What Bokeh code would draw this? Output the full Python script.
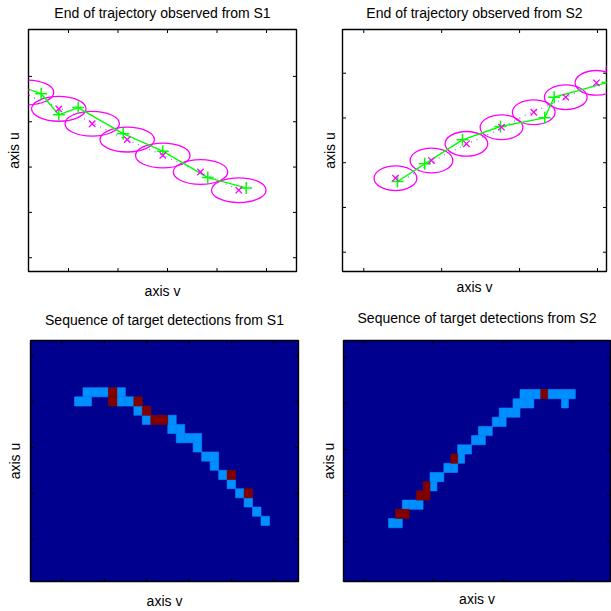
import math
from bokeh.plotting import figure
from bokeh.layouts import column, row
from bokeh.models import FixedTicker, Range1d, LinearAxis
from bokeh.embed import file_html
from bokeh.resources import INLINE

FONT = "Liberation Sans"
NAVY = "#00008F"
LIGHT = "#008FFF"
DARKRED = "#800000"
GREEN = "#00FF00"
MAGENTA = "#FF00FF"

# ---------------- data: end of trajectory, sensor S1 ----------------
s1_track_v = [0.30, 4.48, 8.04, 11.96, 21.05, 29.05, 38.14, 45.90]
s1_track_u = [47.77, 46.19, 41.53, 43.13, 37.37, 33.50, 27.68, 25.40]
s1_obs_v = [1.52, 8.04, 14.79, 21.86, 29.05, 36.67, 44.40]
s1_obs_u = [46.46, 42.84, 39.56, 36.06, 32.56, 28.91, 24.90]
s1_true_v = [1.92, 5.35, 13.29, 19.49, 27.92, 35.31, 43.39]
s1_true_u = [45.69, 44.44, 40.59, 37.16, 33.15, 29.50, 25.49]
s1_ell_w = 11.0
s1_ell_h = 5.47
s1_vticks = [10, 20, 30, 40, 50]
s1_uticks = [10, 20, 30, 40, 50]

# ---------------- data: end of trajectory, sensor S2 ----------------
s2_track_v = [14.33, 17.83, 22.67, 27.55, 33.23, 34.44, 41.28, 43.60]
s2_track_u = [25.80, 29.75, 35.12, 38.09, 40.03, 44.64, 47.92, 49.20]
s2_obs_v = [14.07, 18.69, 23.18, 27.68, 31.82, 35.93, 39.87, 43.85]
s2_obs_u = [26.54, 30.49, 34.22, 37.93, 41.28, 44.64, 47.85, 50.83]
s2_true_v = [15.70, 20.40, 24.25, 26.61, 30.67, 35.16, 37.09, 41.16]
s2_true_u = [26.76, 31.83, 34.96, 36.82, 40.55, 43.90, 45.53, 48.37]
s2_ell_w = 5.48
s2_ell_h = 5.52
s2_vticks = [10, 20, 30, 40]
s2_uticks = [10, 20, 30, 40, 50]

# ---------------- data: detection images ----------------
d1_hit_cols = [6, 7, 8, 10, 5, 6, 10, 11, 12, 13, 16, 16, 17, 17, 18, 19, 19,
               20, 21, 21, 22, 23, 24, 25, 26, 27]
d1_hit_rows = [5, 5, 5, 5, 6, 6, 6, 6, 7, 8, 8, 9, 9, 10, 10, 10, 11,
               12, 12, 13, 14, 15, 16, 17, 18, 19]
d1_match_cols = [9, 9, 12, 13, 14, 15, 23, 25]
d1_match_rows = [5, 6, 6, 7, 8, 8, 14, 16]
d1_vticks = [3.5, 8.5, 13.5, 18.5, 23.5, 28.5]
d1_uticks = [1.5, 6.5, 11.5, 16.5, 21.5]

d2_hit_cols = [26, 27, 28, 30, 31, 32, 33, 25, 26, 27, 32, 23, 24, 25, 22, 23,
               20, 21, 19, 20, 17, 18, 17, 15, 16, 13, 14, 13, 9, 10, 11, 7, 8]
d2_hit_rows = [5, 5, 5, 5, 5, 5, 5, 6, 6, 6, 6, 7, 7, 7, 8, 8,
               9, 9, 10, 10, 11, 11, 12, 13, 13, 14, 14, 15, 17, 17, 17, 19, 19]
d2_match_cols = [29, 16, 12, 11, 12, 8, 9]
d2_match_rows = [5, 12, 15, 16, 16, 18, 18]
d2_vticks = [3.5, 13.5, 23.5, 33.5]
d2_uticks = [1.5, 6.5, 11.5, 16.5, 21.5]


def make_fig(width, height, borders, xr, yr, title, t_standoff, xl_standoff,
             yl_standoff, bg="white"):
    l, r, t, b = borders
    p = figure(width=width, height=height, x_range=Range1d(*xr), y_range=Range1d(*yr),
               output_backend="svg", toolbar_location=None,
               min_border_left=l, min_border_right=r, min_border_top=t,
               min_border_bottom=b, x_axis_label="axis v", y_axis_label="axis u")
    # the panel title is drawn as the label of an (otherwise empty) top axis
    p.add_layout(LinearAxis(axis_label=title), "above")
    for ax in p.axis:
        ax.ticker = FixedTicker(ticks=[])
        ax.major_tick_in = 0
        ax.major_tick_out = 0
        ax.minor_tick_in = 0
        ax.minor_tick_out = 0
        ax.major_label_standoff = 0
        ax.axis_line_color = None
        ax.axis_label_text_font = FONT
        ax.axis_label_text_font_size = "14px"
        ax.axis_label_text_font_style = "normal"
        ax.axis_label_text_color = "black"
    p.above[0].axis_label_standoff = t_standoff
    p.below[0].axis_label_standoff = xl_standoff
    p.left[0].axis_label_standoff = yl_standoff
    p.xgrid.grid_line_color = None
    p.ygrid.grid_line_color = None
    p.outline_line_color = "black"
    p.outline_line_width = 1.4
    p.background_fill_color = bg
    p.border_fill_color = "white"
    return p


def draw_ticks(p, xticks, yticks):
    # inward tick marks on all four sides (half of each dash is clipped by the frame)
    xr, yr = p.x_range, p.y_range
    for yy in (yr.start, yr.end):
        p.scatter(xticks, [yy] * len(xticks), marker="dash", angle=math.pi / 2,
                  size=7, line_color="black", line_width=1)
    for xx in (xr.start, xr.end):
        p.scatter([xx] * len(yticks), yticks, marker="dash", size=7,
                  line_color="black", line_width=1)


def draw_track(p, tv, tu, ov, ou, bv, bu, ew, eh):
    p.line(bv, bu, line_color="#3344FF", line_width=1.2, line_dash="1 5", line_alpha=0.7)
    p.ellipse(ov, ou, width=ew, height=eh, fill_color=None, line_color=MAGENTA,
              line_width=1.3)
    p.line(tv, tu, line_color=GREEN, line_width=1.4)
    p.scatter(tv, tu, marker="cross", size=12, line_color=GREEN, line_width=1.5)
    p.scatter(ov, ou, marker="x", size=9, line_color=MAGENTA, line_width=1.3)


def draw_cells(p, cols, rows, color):
    xs = [c + 0.5 for c in cols]
    ys = [r + 0.5 for r in rows]
    p.rect(xs, ys, width=1, height=1, fill_color=color, line_color=color, line_width=0.6)


# top-left
p1 = make_fig(316, 305, (28, 20, 29, 32), (1.92, 56.06), (6.96, 60.35),
              "End of trajectory observed from S1", 9, 11, 7)
draw_track(p1, s1_track_v, s1_track_u, s1_obs_v, s1_obs_u, s1_true_v, s1_true_u,
           s1_ell_w, s1_ell_h)
draw_ticks(p1, s1_vticks, s1_uticks)

# top-right
p2 = make_fig(295, 305, (26, 5, 29, 34), (7.27, 41.16), (5.69, 59.77),
              "End of trajectory observed from S2", 9, 7, 5)
draw_track(p2, s2_track_v, s2_track_u, s2_obs_v, s2_obs_u, s2_true_v, s2_true_u,
           s2_ell_w, s2_ell_h)
draw_ticks(p2, s2_vticks, s2_uticks)

# bottom-left
p3 = make_fig(316, 306, (30, 18, 33, 28), (-0.19, 31.42), (26.11, -0.14),
              "Sequence of target detections from S1", 13, 11, 8, bg=NAVY)
draw_cells(p3, d1_hit_cols, d1_hit_rows, LIGHT)
draw_cells(p3, d1_match_cols, d1_match_rows, DARKRED)
draw_ticks(p3, d1_vticks, d1_uticks)

# bottom-right
p4 = make_fig(295, 306, (27, 1, 35, 27), (0.5, 39.08), (25.83, -0.32),
              "Sequence of target detections from S2", 15, 9, 7, bg=NAVY)
draw_cells(p4, d2_hit_cols, d2_hit_rows, LIGHT)
draw_cells(p4, d2_match_cols, d2_match_rows, DARKRED)
draw_ticks(p4, d2_vticks, d2_uticks)

layout = column(row(p1, p2), row(p3, p4))
open("out.html", "w").write(file_html(layout, INLINE))
